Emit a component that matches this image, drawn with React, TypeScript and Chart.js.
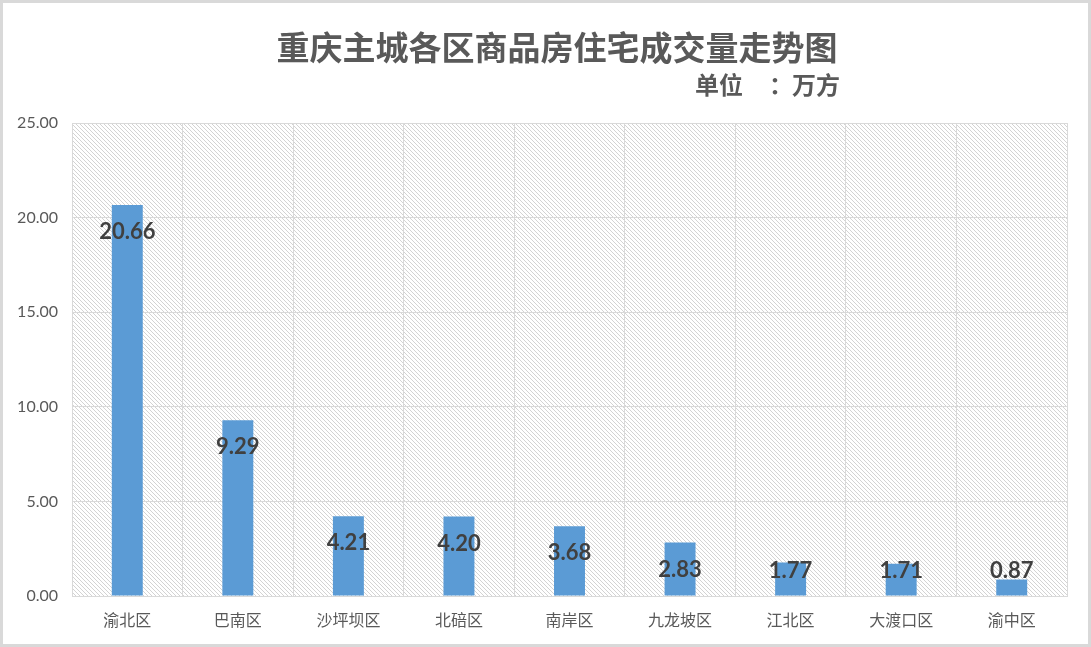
import React, { useEffect, useRef } from "react";
import { Chart, registerables } from "chart.js";

Chart.register(...registerables);

const categories = ["渝北区", "巴南区", "沙坪坝区", "北碚区", "南岸区", "九龙坡区", "江北区", "大渡口区", "渝中区"];
const values = [20.66, 9.29, 4.21, 4.2, 3.68, 2.83, 1.77, 1.71, 0.87];
const titleText = "重庆主城各区商品房住宅成交量走势图";
const subtitleParts = ["单位", "：", "万方"];

const FONT = "Lato, 'Noto Sans CJK SC', sans-serif";
const CJK = "'Noto Sans CJK SC', sans-serif";

function makePattern(): CanvasPattern | string {
  const c = document.createElement("canvas");
  c.width = 4;
  c.height = 4;
  const g = c.getContext("2d");
  if (!g) return "#fff";
  g.fillStyle = "#ffffff";
  g.fillRect(0, 0, 4, 4);
  g.fillStyle = "#d3d3d3";
  for (let i = 0; i < 4; i++) g.fillRect(i, i, 1, 1);
  const p = g.createPattern(c, "repeat");
  return p || "#fff";
}

const bgPlugin = {
  id: "hatchBg",
  beforeDraw(chart: any) {
    const { ctx, chartArea, width, height } = chart;
    ctx.save();
    ctx.fillStyle = "#ffffff";
    ctx.fillRect(0, 0, width, height);
    ctx.fillStyle = makePattern();
    ctx.fillRect(chartArea.left, chartArea.top, chartArea.right - chartArea.left, chartArea.bottom - chartArea.top);
    ctx.restore();
  },
};

const textPlugin = {
  id: "texts",
  afterDraw(chart: any) {
    const { ctx, width, height } = chart;
    ctx.save();
    ctx.fillStyle = "#595959";
    ctx.textBaseline = "middle";
    ctx.textAlign = "center";
    ctx.font = `bold 33px ${CJK}`;
    ctx.fillText(titleText, 557, 47);

    // subtitle
    ctx.font = `bold 24px ${CJK}`;
    ctx.textAlign = "left";
    ctx.fillText(subtitleParts[0], 695, 85);
    ctx.textAlign = "center";
    ctx.fillText(subtitleParts[1], 781, 85);
    ctx.textAlign = "right";
    ctx.fillText(subtitleParts[2], 840, 85);

    // data labels
    const meta = chart.getDatasetMeta(0);
    ctx.fillStyle = "#404040";
    ctx.textAlign = "center";
    ctx.font = `bold 22px ${FONT}`;
    meta.data.forEach((bar: any, i: number) => {
      const y = Math.min(bar.y + 27, 571);
      ctx.fillText(values[i].toFixed(2), bar.x, y);
    });

    // outer border
    ctx.strokeStyle = "#d9d9d9";
    ctx.lineWidth = 3;
    ctx.strokeRect(1.5, 1.5, width - 3, height - 3);
    ctx.restore();
  },
};

export default function App() {
  const ref = useRef<HTMLCanvasElement>(null);
  useEffect(() => {
    if (!ref.current) return;
    const chart = new Chart(ref.current, {
      type: "bar",
      data: {
        labels: categories,
        datasets: [
          {
            data: values,
            backgroundColor: "#5B9BD5",
            barPercentage: 0.28,
            categoryPercentage: 1,
          },
        ],
      },
      options: {
        animation: false,
        responsive: false,
        maintainAspectRatio: false,
        layout: { padding: { top: 123, right: 24, left: 0, bottom: 0 } },
        plugins: { legend: { display: false }, tooltip: { enabled: false }, title: { display: false } },
        scales: {
          x: {
            grid: { color: "#d9d9d9", drawTicks: false, offset: true },
            border: { display: true, color: "#d9d9d9" },
            ticks: { color: "#595959", font: { family: CJK, size: 16 }, padding: 14 },
            afterFit(scale: any) {
              scale.height = 51;
            },
          },
          y: {
            min: 0,
            max: 25,
            grid: { color: "#d9d9d9", drawTicks: false },
            border: { display: false },
            ticks: {
              stepSize: 5,
              color: "#595959",
              font: { family: FONT, size: 16 },
              padding: 14,
              callback: (v: any) => Number(v).toFixed(2),
            },
            afterFit(scale: any) {
              scale.width = 72;
            },
          },
        },
      },
      plugins: [bgPlugin, textPlugin],
    });
    return () => chart.destroy();
  }, []);
  return (
    <div style={{ position: "fixed", left: 0, top: 0, width: 1091, height: 647, overflow: "hidden" }}>
      <canvas ref={ref} width={1091} height={647} style={{ display: "block" }} />
    </div>
  );
}
